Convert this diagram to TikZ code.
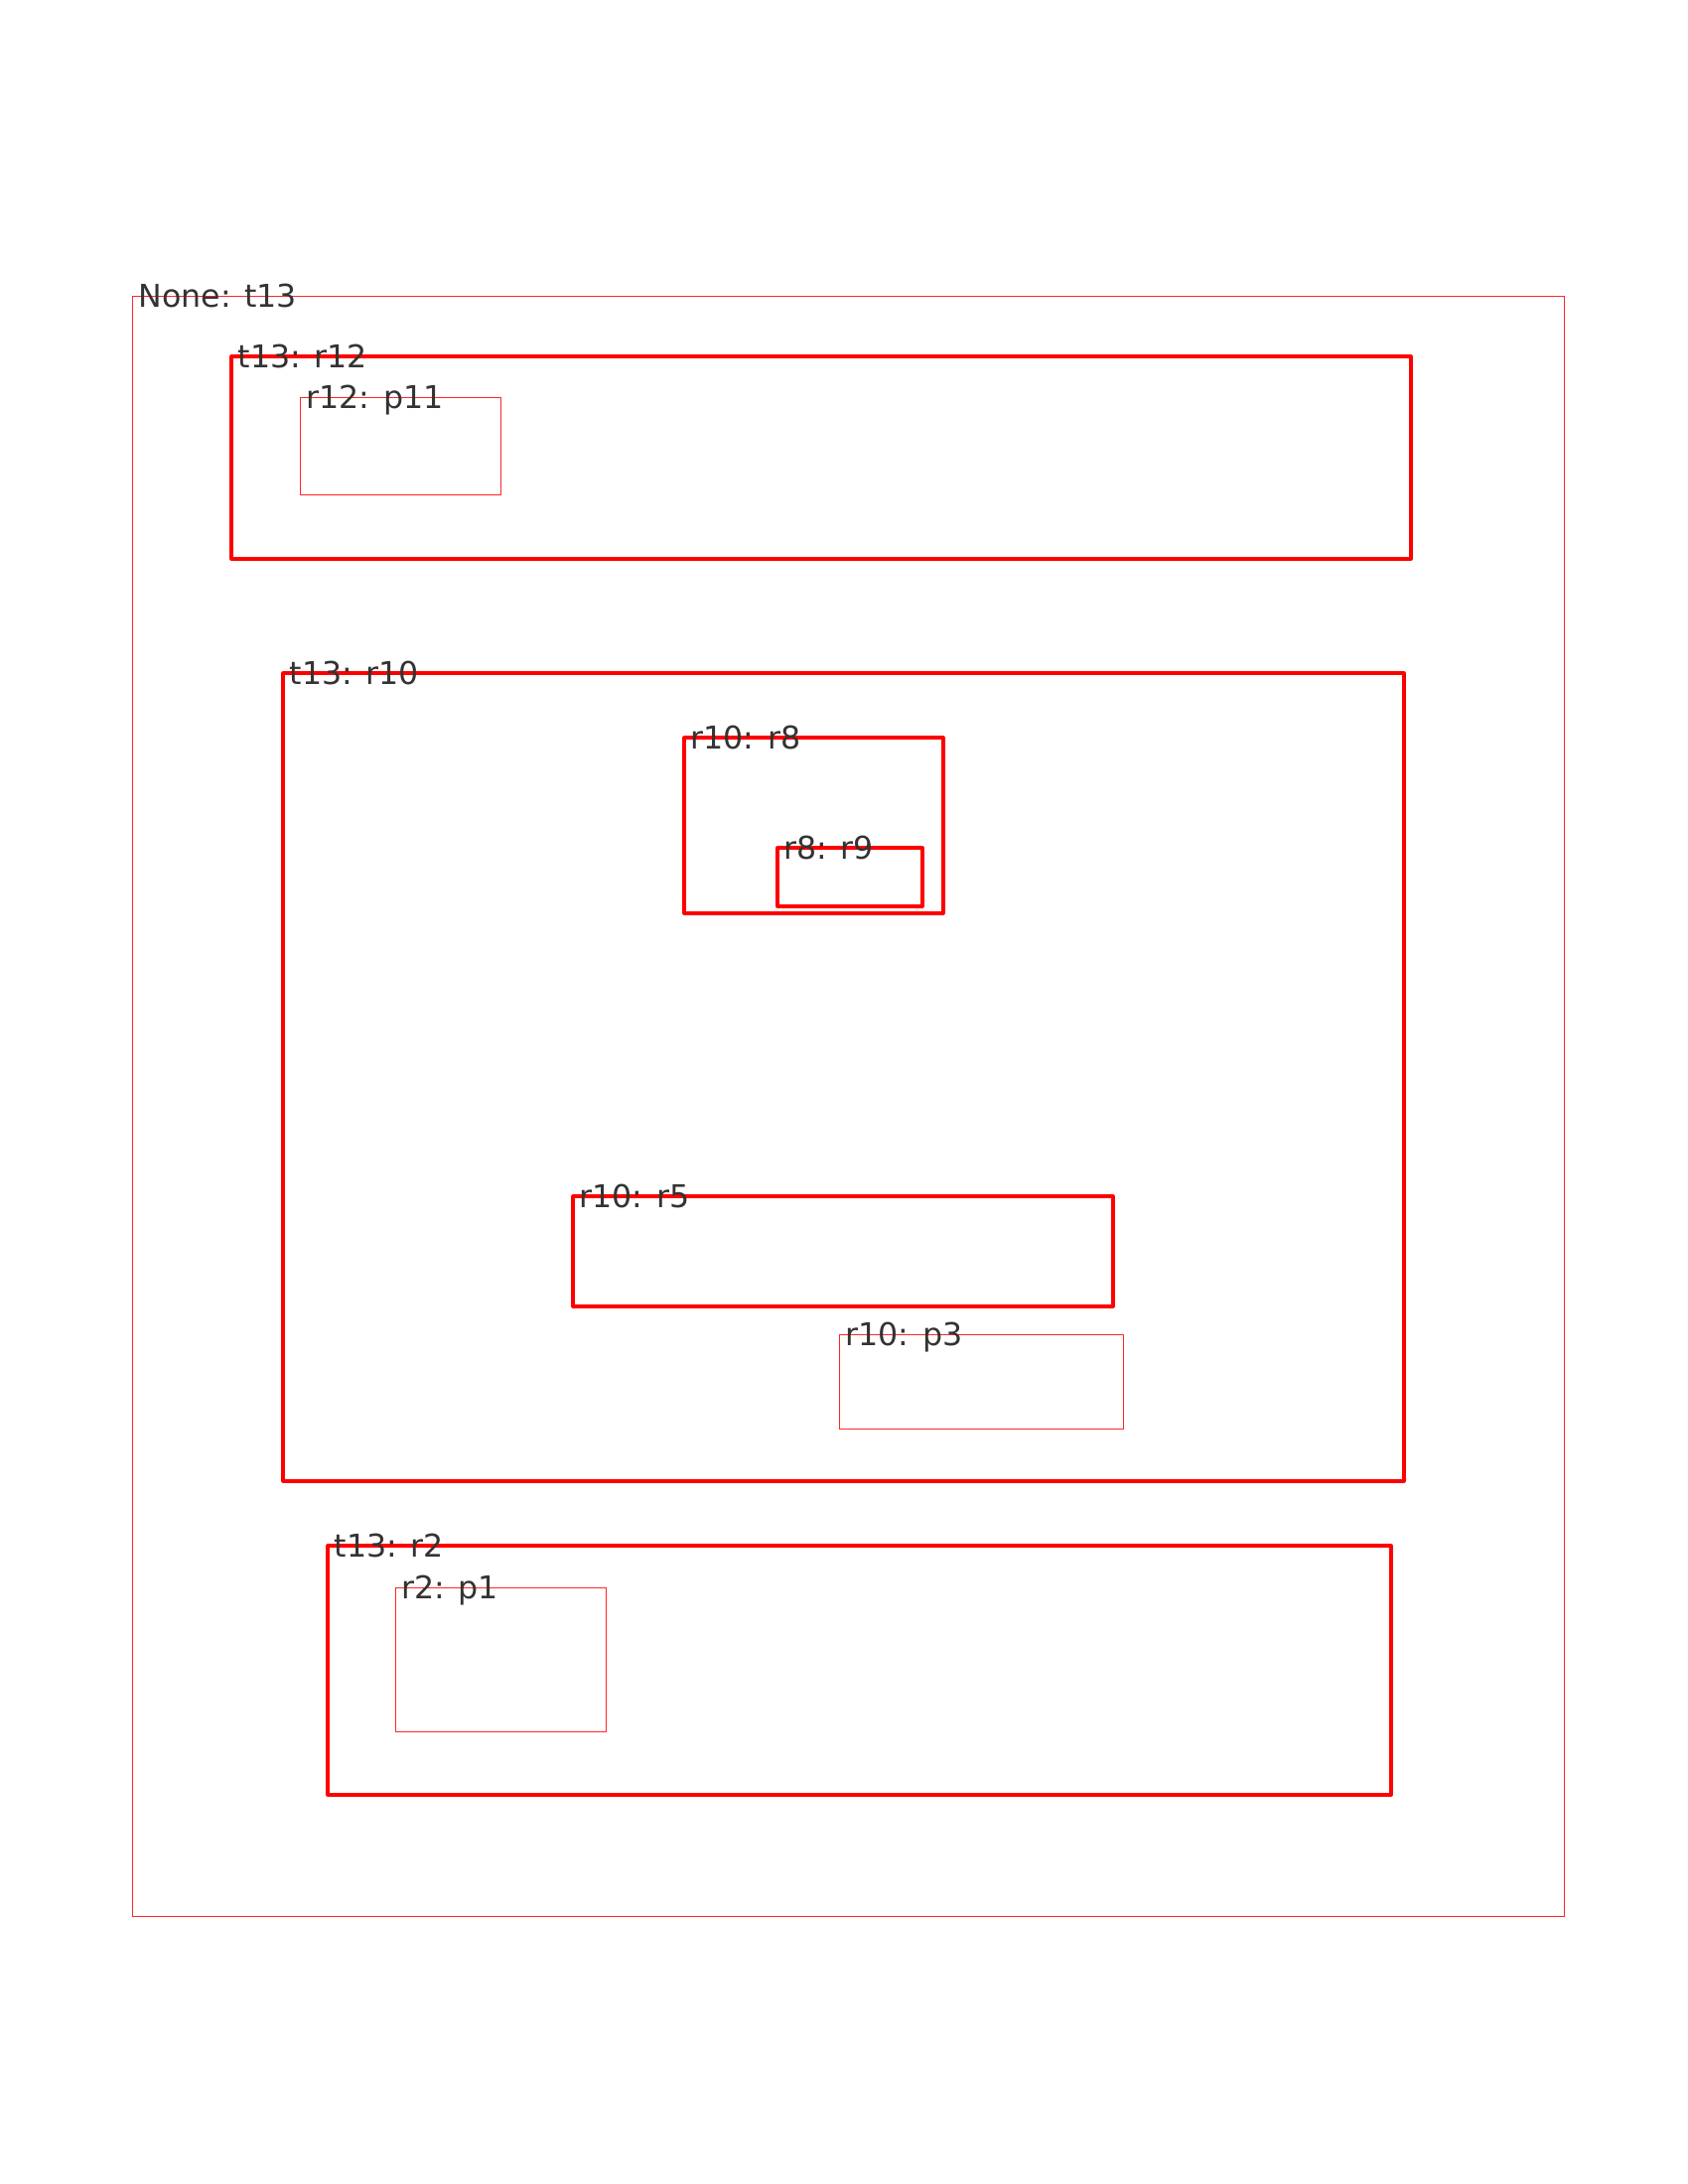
\documentclass[tikz,border=0pt]{standalone}
\usepackage{fontspec}
\setmainfont{DejaVu Sans}
\definecolor{labelgrey}{HTML}{333333}
\tikzset{
  thinbox/.style={draw=red!85, line width=0.25pt},
  thickbox/.style={draw=red, line width=0.9pt, line join=round},
  boxlabel/.style={anchor=base west, inner sep=0pt, text=labelgrey,
    font=\fontsize{9}{10}\selectfont}
}
\begin{document}
\begin{tikzpicture}[x=0.01cm, y=-0.01cm]
    \useasboundingbox (0,0) rectangle (1700,2200);

    % outer tree
    \draw[thinbox] (133,298) rectangle (1575,1930);
    \node[boxlabel] (t13) at (139,309) {None: t13};

    % r12 and its p11
    \draw[thickbox] (233,359) rectangle (1421,563);
    \node[boxlabel] (r12) at (239,370) {t13: r12};
    \draw[thinbox] (302,400) rectangle (504,498);
    \node[boxlabel] (p11) at (308,411) {r12: p11};

    % r10 with r8, r9, r5, p3
    \draw[thickbox] (285,678) rectangle (1414,1492);
    \node[boxlabel] (r10) at (291,689) {t13: r10};
    \draw[thickbox] (689,743) rectangle (950,920);
    \node[boxlabel] (r8) at (695,754) {r10: r8};
    \draw[thickbox] (783,854) rectangle (929,913);
    \node[boxlabel] (r9) at (789,865) {r8: r9};
    \draw[thickbox] (577,1205) rectangle (1121,1316);
    \node[boxlabel] (r5) at (583,1216) {r10: r5};
    \draw[thinbox] (845,1344) rectangle (1131,1439);
    \node[boxlabel] (p3) at (851,1355) {r10: p3};

    % r2 and its p1
    \draw[thickbox] (330,1557) rectangle (1401,1808);
    \node[boxlabel] (r2) at (336,1568) {t13: r2};
    \draw[thinbox] (398,1599) rectangle (610,1744);
    \node[boxlabel] (p1) at (404,1610) {r2: p1};
\end{tikzpicture}
\end{document}
